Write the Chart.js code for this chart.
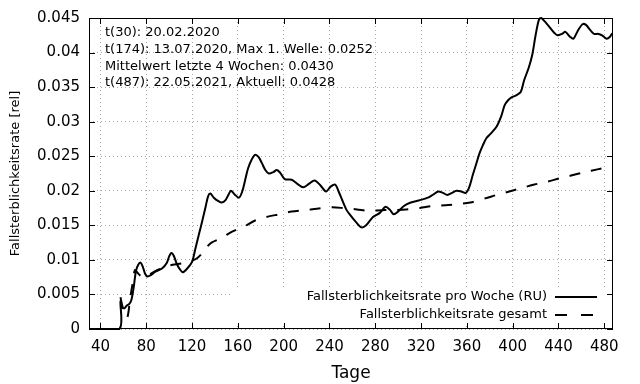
<!DOCTYPE html>
<html>
<head>
<meta charset="utf-8">
<script src="https://cdn.jsdelivr.net/npm/chart.js@4.4.1/dist/chart.umd.min.js"></script>
<style>
    html, body { margin: 0; padding: 0; background: #fff; }
</style>
</head>
<body>
<canvas id="chart" width="640" height="384"></canvas>
<script>
// Daten
const weekDays = [
    30, 56.5, 57.5, 59, 61, 63, 65, 67, 69, 71, 73, 75, 77, 79, 81, 84, 88, 94, 98, 100,
    102, 104, 107, 110, 112, 116, 120, 123, 126, 129, 132, 134, 136, 139, 143, 146, 149, 152, 154, 157,
    161, 164, 167, 169, 172, 175, 178, 181, 184, 187, 191, 194, 197, 201, 207, 212, 217, 222, 227, 232,
    237, 241, 245, 248, 251, 255, 258, 263, 268, 272, 278, 284, 289, 293, 296, 300, 305, 311, 318, 326,
    331, 335, 339, 343, 347, 351, 355, 359, 362, 365, 368, 371, 374, 377, 381, 386, 390, 393, 396, 399,
    403, 407, 410, 414, 417, 420, 423, 425, 428, 432, 436, 439, 443, 446, 450, 453, 457, 461, 464, 468,
    471, 475, 478, 482, 485, 487
];
const weekRates = [
    0, 0, 0.0040, 0.0031, 0.0030, 0.0034, 0.0036, 0.0042, 0.0060, 0.0084, 0.0093, 0.0096, 0.0090, 0.0080, 0.0076, 0.0078, 0.0083, 0.0088, 0.0096, 0.0105,
    0.0110, 0.0106, 0.0093, 0.0085, 0.0082, 0.0088, 0.0097, 0.0117, 0.0137, 0.0157, 0.0178, 0.0192, 0.0196, 0.0190, 0.0185, 0.0183, 0.0186, 0.0195, 0.0200, 0.0195,
    0.0190, 0.0200, 0.0220, 0.0233, 0.0245, 0.0252, 0.0249, 0.0240, 0.0230, 0.0225, 0.0227, 0.0230, 0.0226, 0.0217, 0.0216, 0.0210, 0.0205, 0.0210, 0.0215, 0.0208,
    0.0199, 0.0206, 0.0209, 0.0199, 0.0187, 0.0172, 0.0165, 0.0155, 0.0147, 0.0150, 0.0162, 0.0168, 0.0177, 0.0172, 0.0166, 0.0170, 0.0178, 0.0183, 0.0186, 0.0190,
    0.0195, 0.0199, 0.0197, 0.0194, 0.0197, 0.0200, 0.0199, 0.0197, 0.0205, 0.0222, 0.0238, 0.0254, 0.0266, 0.0276, 0.0283, 0.0293, 0.0308, 0.0324, 0.0331, 0.0335,
    0.0338, 0.0343, 0.0360, 0.0378, 0.0396, 0.0425, 0.0448, 0.0450, 0.0445, 0.0437, 0.0429, 0.0425, 0.0427, 0.0430, 0.0423, 0.0420, 0.0432, 0.0441, 0.0440, 0.0432,
    0.0427, 0.0427, 0.0425, 0.0420, 0.0423, 0.0428
];

const totalDays = [
    57.5, 59, 61, 63.5, 66, 68, 70, 72, 75, 78, 82, 87, 92, 97, 103, 111, 119, 124, 128, 132,
    137, 146, 155, 164, 175, 185, 196, 207, 219, 229, 242, 252, 264, 274, 286, 295, 307, 319, 330, 341,
    354, 363, 376, 386, 397, 408, 419, 430, 441, 451, 463, 474, 487
];
const totalRates = [
    0.0046, 0.0034, 0.0025, 0.0017, 0.0045, 0.0065, 0.0085, 0.0082, 0.0077, 0.0075, 0.0078, 0.0083, 0.0087, 0.0090, 0.0093, 0.0095, 0.0098, 0.0102, 0.0108, 0.0117,
    0.0125, 0.0132, 0.0141, 0.0147, 0.0157, 0.0162, 0.0166, 0.0170, 0.0172, 0.0174, 0.0176, 0.0175, 0.0173, 0.0171, 0.0172, 0.0172, 0.0173, 0.0175, 0.0178, 0.0179,
    0.0181, 0.0183, 0.0189, 0.0194, 0.0199, 0.0204, 0.0209, 0.0213, 0.0218, 0.0222, 0.0227, 0.0231, 0.0236
];

const xTicks = [40, 80, 120, 160, 200, 240, 280, 320, 360, 400, 440, 480];
const yTicks = [0, 0.005, 0.01, 0.015, 0.02, 0.025, 0.03, 0.035, 0.04, 0.045];
const yTickLabels = ['0', '0.005', '0.01', '0.015', '0.02', '0.025', '0.03', '0.035', '0.04', '0.045'];

const infoLines = [
    't(30): 20.02.2020',
    't(174): 13.07.2020, Max 1. Welle: 0.0252',
    'Mittelwert letzte 4 Wochen: 0.0430',
    't(487): 22.05.2021, Aktuell: 0.0428'
];
const legendItems = [
    { label: 'Fallsterblichkeitsrate pro Woche (RU)', dash: [] },
    { label: 'Fallsterblichkeitsrate gesamt', dash: [12, 14] }
];

const toPoints = (xs, ys) => xs.map((x, i) => ({ x: x, y: ys[i] }));

Chart.defaults.font.family = '"DejaVu Sans", sans-serif';
Chart.defaults.color = '#000';

// Rahmen, Ticks nach innen, Legende und Infotext im gnuplot-Stil
const gnuplotStyle = {
    id: 'gnuplotStyle',
    beforeDatasetsDraw(chart) {
        const { ctx, chartArea: a } = chart;
        ctx.save();
        // Legende mit weissem Hintergrund
        ctx.fillStyle = '#fff';
        ctx.fillRect(a.left + 143, a.bottom - 42, a.right - a.left - 150, 38);
        ctx.font = '13px "DejaVu Sans"';
        ctx.fillStyle = '#000';
        ctx.textAlign = 'right';
        ctx.textBaseline = 'middle';
        legendItems.forEach((item, i) => {
            const y = a.bottom - 32 + i * 18;
            ctx.fillText(item.label, a.right - 66, y);
            ctx.beginPath();
            ctx.setLineDash(item.dash);
            ctx.lineWidth = 2;
            ctx.strokeStyle = '#000';
            ctx.moveTo(a.right - 58, y);
            ctx.lineTo(a.right - 16, y);
            ctx.stroke();
        });
        ctx.setLineDash([]);
        // Infotext oben links
        ctx.textAlign = 'left';
        infoLines.forEach((line, i) => {
            ctx.fillText(line, a.left + 16, a.top + 15 + i * 16.7);
        });
        ctx.restore();
    },
    afterDraw(chart) {
        const { ctx, chartArea: a, scales } = chart;
        ctx.save();
        ctx.strokeStyle = '#000';
        ctx.lineWidth = 1;
        ctx.strokeRect(a.left + 0.5, a.top + 0.5, a.right - a.left - 1, a.bottom - a.top - 1);
        ctx.beginPath();
        xTicks.forEach(v => {
            const px = Math.round(scales.x.getPixelForValue(v)) + 0.5;
            ctx.moveTo(px, a.bottom);
            ctx.lineTo(px, a.bottom - 6);
            ctx.moveTo(px, a.top);
            ctx.lineTo(px, a.top + 6);
        });
        yTicks.forEach(v => {
            const py = Math.round(scales.y.getPixelForValue(v)) + 0.5;
            ctx.moveTo(a.left, py);
            ctx.lineTo(a.left + 6, py);
            ctx.moveTo(a.right, py);
            ctx.lineTo(a.right - 6, py);
        });
        ctx.stroke();
        ctx.restore();
    }
};

const gridStyle = {
    color: '#a8a8a8',
    lineWidth: 1,
    drawTicks: false
};

new Chart(document.getElementById('chart').getContext('2d'), {
    type: 'line',
    data: {
        datasets: [
            {
                label: legendItems[0].label,
                data: toPoints(weekDays, weekRates),
                borderColor: '#000',
                borderWidth: 2,
                pointRadius: 0,
                tension: 0.3,
                fill: false,
                clip: { left: 2, top: 1, right: 2, bottom: 2 }
            },
            {
                label: legendItems[1].label,
                data: toPoints(totalDays, totalRates),
                borderColor: '#000',
                borderWidth: 2,
                borderDash: [11, 11],
                pointRadius: 0,
                tension: 0.3,
                fill: false
            }
        ]
    },
    options: {
        responsive: false,
        animation: false,
        layout: { padding: { left: 0, right: 27, top: 18, bottom: 0 } },
        plugins: {
            legend: { display: false },
            tooltip: { enabled: false }
        },
        scales: {
            x: {
                type: 'linear',
                min: 30,
                max: 487.6,
                grid: gridStyle,
                border: { display: false, dash: [1, 3] },
                afterBuildTicks: (scale) => { scale.ticks = xTicks.map(v => ({ value: v })); },
                afterFit: (scale) => { scale.height = 55; },
                ticks: {
                    font: { size: 15 },
                    padding: 9,
                    maxRotation: 0,
                    callback: (v) => String(v)
                },
                title: {
                    display: true,
                    text: 'Tage',
                    font: { size: 17 },
                    padding: { top: 0, bottom: 0 }
                }
            },
            y: {
                min: 0,
                max: 0.045,
                grid: gridStyle,
                border: { display: false, dash: [1, 3] },
                afterBuildTicks: (scale) => { scale.ticks = yTicks.map(v => ({ value: v })); },
                afterFit: (scale) => { scale.width = 89; },
                ticks: {
                    font: { size: 15 },
                    padding: 9,
                    callback: (v, i) => yTickLabels[i]
                },
                title: {
                    display: true,
                    text: 'Fallsterblichkeitsrate [rel]',
                    font: { size: 13 },
                    padding: { top: 8, bottom: 0 }
                }
            }
        }
    },
    plugins: [gnuplotStyle]
});
</script>
</body>
</html>
